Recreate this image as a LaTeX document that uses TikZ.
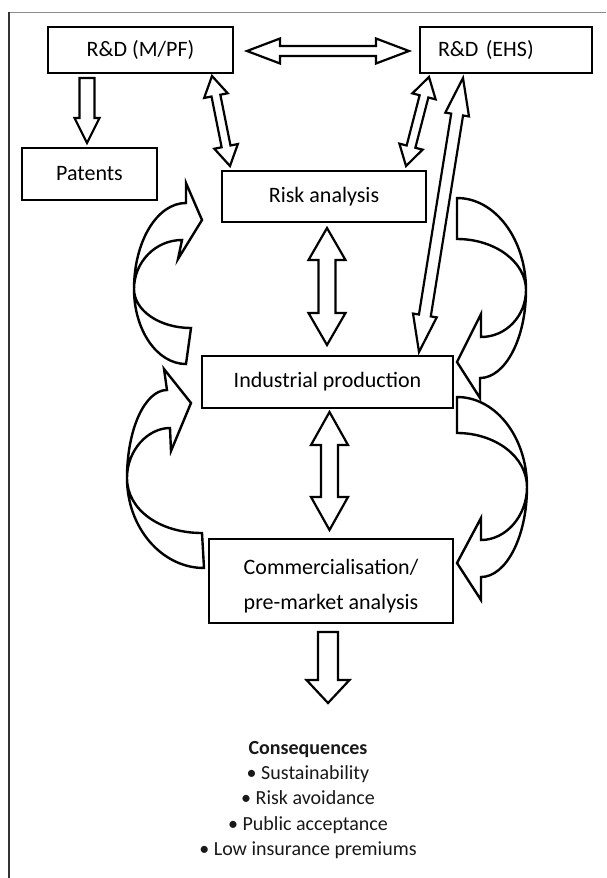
\documentclass[tikz,border=0pt]{standalone}
\usepackage{fontspec}
\setmainfont{Carlito}
\usetikzlibrary{calc}
\tikzset{
  box/.style={draw=black, line width=2.8pt, inner sep=0pt, text=black, font=\fontsize{22}{26}\selectfont, align=center},
  blockarrow/.style={draw=black, line width=2.2pt, fill=white, line join=miter},
  curvarrow/.style={draw=black, line width=2.4pt, fill=white, line join=miter},
  frameline/.style={line width=1.5pt},
}
\newcommand\mydbl[5]{%
  \coordinate (h1) at ($(#1)!#5!(#2)$);
  \coordinate (h2) at ($(#2)!#5!(#1)$);
  \draw[blockarrow] (#1) -- ($(h1)!#4!90:(#2)$) -- ($(h1)!#3!90:(#2)$) -- ($(h2)!#3!-90:(#1)$) -- ($(h2)!#4!-90:(#1)$) -- (#2) -- ($(h2)!#4!90:(#1)$) -- ($(h2)!#3!90:(#1)$) -- ($(h1)!#3!-90:(#2)$) -- ($(h1)!#4!-90:(#2)$) -- cycle;}
\newcommand\mysgl[5]{%
  \coordinate (h2) at ($(#2)!#5!(#1)$);
  \draw[blockarrow] ($(#1)!#3!90:(#2)$) -- ($(h2)!#3!-90:(#1)$) -- ($(h2)!#4!-90:(#1)$) -- (#2) -- ($(h2)!#4!90:(#1)$) -- ($(h2)!#3!90:(#1)$) -- ($(#1)!#3!-90:(#2)$) -- cycle;}
\begin{document}
\begin{tikzpicture}[x=1pt,y=-1pt]
\useasboundingbox (0,0) rectangle (606,878);
\fill[white] (0,0) rectangle (606,878);
\draw[frameline, draw=black!45] (8,12.5) -- (606,12.5);
\draw[frameline, draw=black!80] (9,12) -- (9,878);

% boxes
\node[box, minimum width=185pt, minimum height=46pt] (rdm) at (140.5,50) {R\&D (M/PF)};
\node[box, minimum width=172pt, minimum height=46pt, text width=136pt, inner xsep=18pt, align=left] (rde) at (506,50) {R\&D (EHS)};
\node[box, minimum width=135pt, minimum height=52pt] (pat) at (89.5,174) {Patents};
\node[box, minimum width=204pt, minimum height=51pt] (risk) at (324,196.5) {Risk analysis};
\node[box, minimum width=251pt, minimum height=52pt] (ind) at (327.5,382) {Industrial production};
\node[box, minimum width=244pt, minimum height=84pt, font=\fontsize{22}{35}\selectfont] (com) at (331,581) {\rule{0pt}{26pt}Commercialisation/\\pre-market analysis};
\node[font=\fontsize{20}{25.3}\selectfont, align=center, text=black!90, inner sep=0pt] (cons) at (308,800) {\textbf{Consequences}\\• Sustainability\\• Risk avoidance\\• Public acceptance\\• Low insurance premiums};

% straight block arrows
\coordinate (a1) at (247,51); \coordinate (a2) at (409,51);
\mydbl{a1}{a2}{5pt}{12.5pt}{33pt}
\coordinate (b1) at (87,78); \coordinate (b2) at (87,143);
\mysgl{b1}{b2}{7.5pt}{12.5pt}{25pt}
\coordinate (c1) at (212,76); \coordinate (c2) at (230,166);
\mydbl{c1}{c2}{4.5pt}{12pt}{20pt}
\coordinate (d1) at (429,77); \coordinate (d2) at (406,166);
\mydbl{d1}{d2}{4.5pt}{12pt}{20pt}
\coordinate (e1) at (463,78); \coordinate (e2) at (419,352);
\mydbl{e1}{e2}{6pt}{12pt}{37pt}
\coordinate (f1) at (327,228); \coordinate (f2) at (327,345);
\mydbl{f1}{f2}{8.5pt}{18.5pt}{32pt}
\coordinate (g1) at (329.5,412); \coordinate (g2) at (329.5,530);
\mydbl{g1}{g2}{8.5pt}{18.5pt}{33pt}
\coordinate (k1) at (328,632); \coordinate (k2) at (328,703);
\mysgl{k1}{k2}{10pt}{21.5pt}{23pt}

% curved arrows, left
\draw[curvarrow] (191,328) -- (186,364)
  .. controls (157,364) and (134,330) .. (134,289)
  .. controls (134,241.5) and (157,203) .. (186,203)
  -- (186,183) -- (202,220) -- (178,259) -- (182,240)
  .. controls (155.5,240) and (134,262) .. (134,289)
  .. controls (134,310.5) and (159.5,328) .. (191,328) -- cycle;
\draw[curvarrow] (202,533) -- (204,568)
  .. controls (162,568) and (127,528) .. (127,478)
  .. controls (127,429) and (145,390) .. (167,390)
  -- (164,369) -- (191,403) -- (171,451) -- (170,428)
  .. controls (148,428) and (127,450) .. (127,478)
  .. controls (127,510) and (160,533) .. (202,533) -- cycle;

% curved arrows, right
\draw[curvarrow] (457,198) -- (457,239)
  .. controls (495,239) and (526,262) .. (526,290)
  .. controls (526,316) and (506,337) .. (481,337)
  -- (481,314) -- (457,362) -- (480,398) -- (480,378)
  .. controls (505,378) and (526,339) .. (526,290)
  .. controls (526,239) and (495,198) .. (457,198) -- cycle;
\draw[curvarrow] (457,397) -- (457,433)
  .. controls (495.6,433) and (527,457) .. (527,487)
  .. controls (527,516) and (506,540) .. (481,540)
  -- (481,518) -- (457,563) -- (481,600) -- (481,577)
  .. controls (506,577) and (527,537) .. (527,487)
  .. controls (527,437) and (495.6,397) .. (457,397) -- cycle;
\end{tikzpicture}
\end{document}
